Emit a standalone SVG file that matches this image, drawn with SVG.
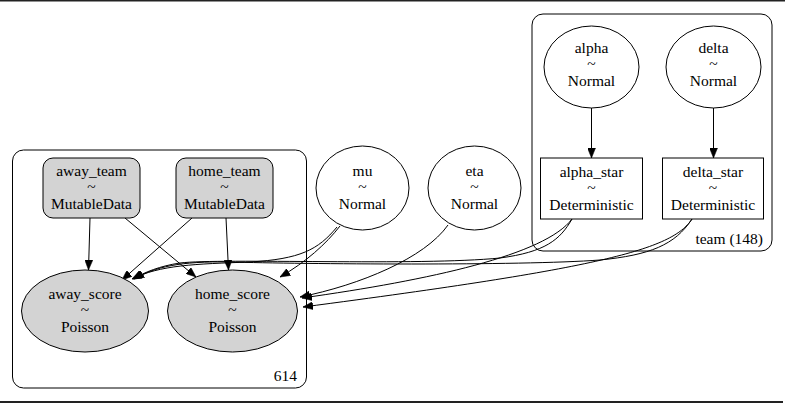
<svg xmlns="http://www.w3.org/2000/svg" width="785" height="403" viewBox="0 0 785 403">
<defs>
<style>
text{font-family:"Liberation Serif","Times New Roman",serif;font-size:15.5px;fill:#000;text-anchor:middle}
.cl{fill:none;stroke:#000;stroke-width:1}
.nd{fill:#fff;stroke:#000;stroke-width:1}
.obs{fill:#d3d3d3;stroke:#000;stroke-width:1}
.det{fill:#fff;stroke:#000;stroke-width:1}
.e{fill:none;stroke:#000;stroke-width:1;marker-end:url(#ah)}
.lbl{text-anchor:end}
</style>
<marker id="ah" viewBox="0 0 10 8" refX="10" refY="4" markerWidth="10" markerHeight="8" markerUnits="userSpaceOnUse" orient="auto">
<path d="M0,0 L10,4 L0,8 z" fill="#000" stroke="#000" stroke-width="0.5"/>
</marker>
</defs>
<rect x="0" y="0" width="785" height="403" fill="#fff"/>
<rect x="0" y="0" width="785" height="1.5" fill="#222"/>
<rect x="0" y="401" width="783" height="2" fill="#222"/>

<g id="cluster_614">
<rect class="cl" x="12.5" y="150" width="294" height="238" rx="11"/>
<text class="lbl" x="297" y="381">614</text>
</g>
<g id="cluster_team">
<rect class="cl" x="532" y="14" width="240" height="237" rx="11"/>
<text class="lbl" x="763" y="244">team (148)</text>
</g>

<g id="edges">
<path class="e" d="M591.5,108 L591.5,158"/>
<path class="e" d="M713.5,108 L713.5,158"/>
<path class="e" d="M90,218 L88.5,270"/>
<path class="e" d="M125,218 L196,277"/>
<path class="e" d="M192,218 L122,280"/>
<path class="e" d="M226,218 L228.5,270"/>
<path class="e" d="M340,226 C326,244 306,262 280,277"/>
<path class="e" d="M337,227 C318,250 300,259 250,262 C195,264 160,265 132,279"/>
<path class="e" d="M448,225 C425,258 360,285 300,297"/>
<path class="e" d="M572,219 C560,240 545,252 500,258 C420,266 220,258 180,263 C160,266 145,272 133,279"/>
<path class="e" d="M572,219 C545,255 430,280 302,298"/>
<path class="e" d="M692,219 C675,245 650,255 600,260 C520,266 300,264 230,262 C180,261 155,267 134,279"/>
<path class="e" d="M692,219 C672,250 600,268 303,307"/>
</g>

<g id="away_team">
<rect class="obs" x="43" y="158" width="97" height="60" rx="10"/>
<text x="91.5" y="176">away_team</text><text x="91.5" y="192">~</text><text x="91.5" y="209">MutableData</text>
</g>
<g id="home_team">
<rect class="obs" x="176" y="158" width="97" height="60" rx="10"/>
<text x="224.5" y="176">home_team</text><text x="224.5" y="192">~</text><text x="224.5" y="209">MutableData</text>
</g>
<g id="away_score">
<ellipse class="obs" cx="85" cy="311" rx="63.5" ry="41"/>
<text x="85" y="299">away_score</text><text x="85" y="315">~</text><text x="85" y="332">Poisson</text>
</g>
<g id="home_score">
<ellipse class="obs" cx="232.5" cy="311" rx="65" ry="41"/>
<text x="232.5" y="299">home_score</text><text x="232.5" y="315">~</text><text x="232.5" y="332">Poisson</text>
</g>
<g id="mu">
<ellipse class="nd" cx="362.5" cy="188" rx="46.5" ry="42"/>
<text x="362.5" y="176">mu</text><text x="362.5" y="192">~</text><text x="362.5" y="209">Normal</text>
</g>
<g id="eta">
<ellipse class="nd" cx="474.5" cy="188" rx="46.5" ry="42"/>
<text x="474.5" y="176">eta</text><text x="474.5" y="192">~</text><text x="474.5" y="209">Normal</text>
</g>
<g id="alpha">
<ellipse class="nd" cx="591.5" cy="67" rx="47.5" ry="41"/>
<text x="591.5" y="53">alpha</text><text x="591.5" y="69">~</text><text x="591.5" y="86">Normal</text>
</g>
<g id="delta">
<ellipse class="nd" cx="713.5" cy="67" rx="47.5" ry="41"/>
<text x="713.5" y="53">delta</text><text x="713.5" y="69">~</text><text x="713.5" y="86">Normal</text>
</g>
<g id="alpha_star">
<rect class="det" x="540.5" y="158" width="102" height="61"/>
<text x="591.5" y="177">alpha_star</text><text x="591.5" y="193">~</text><text x="591.5" y="210">Deterministic</text>
</g>
<g id="delta_star">
<rect class="det" x="662.5" y="158" width="101" height="61"/>
<text x="713" y="177">delta_star</text><text x="713" y="193">~</text><text x="713" y="210">Deterministic</text>
</g>
</svg>
